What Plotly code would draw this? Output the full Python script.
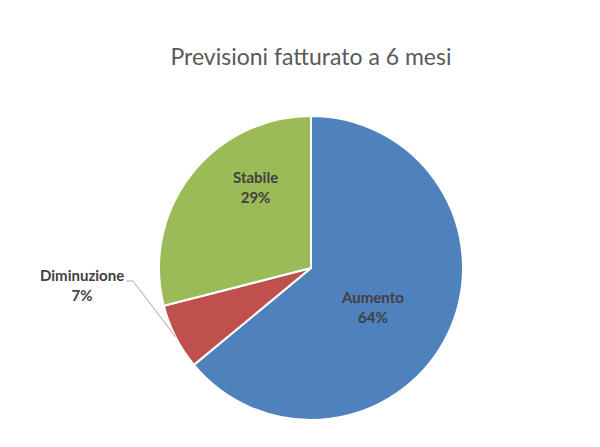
import math
import plotly.graph_objects as go

# Data
labels = ["Aumento", "Diminuzione", "Stabile"]
values = [64, 7, 29]
colors = ["#4F81BD", "#C0504D", "#9BBB59"]
title = "Previsioni fatturato a 6 mesi"

W, H = 600, 447
OFF = 8  # the page body adds an 8px margin
cx, cy, R = 311, 268, 152  # pie centre / radius in screenshot pixels

# where the data labels sit (screenshot pixels)
label_pos = {"Aumento": (373, 307), "Stabile": (255, 187), "Diminuzione": (82, 285)}
label_font = dict(family="Lato", size=15, color="#404040")


def px(x):
    return (x - OFF) / W


def py(y):
    return 1 - (y - OFF) / H


fig = go.Figure(go.Pie(
    labels=labels,
    values=values,
    sort=False,
    direction="clockwise",
    rotation=0,
    marker=dict(colors=colors, line=dict(color="white", width=2)),
    textinfo="none",
    domain=dict(x=[px(cx - R), px(cx + R)], y=[py(cy + R), py(cy - R)]),
    showlegend=False,
    hoverinfo="label+percent",
))

total = sum(values)
for lab, val in zip(labels, values):
    x, y = label_pos[lab]
    fig.add_annotation(x=px(x), y=py(y), xref="paper", yref="paper",
                       xanchor="center", yanchor="middle", showarrow=False,
                       align="center",
                       text=f"<b>{lab}</b><br><b>{round(val / total * 100)}%</b>",
                       font=label_font)

# leader line for the small slice
start = values[0] / total
mid = (start + values[1] / total / 2) * 2 * math.pi
ex = cx + R * math.sin(mid)
ey = cy - R * math.cos(mid)
bx, by = 133, 281
fig.add_shape(type="path", xref="paper", yref="paper",
              path=f"M {px(ex)} {py(ey)} L {px(bx)} {py(by)} L {px(bx - 6)} {py(by)}",
              line=dict(color="#A6A6A6", width=1))

fig.update_layout(
    width=W, height=H,
    margin=dict(l=0, r=0, t=0, b=0),
    paper_bgcolor="white",
    title=dict(text=title, x=px(311), xanchor="center", y=py(57), yanchor="middle",
               font=dict(family="Lato", size=23, color="#595959")),
)

fig.write_html("out.html")
